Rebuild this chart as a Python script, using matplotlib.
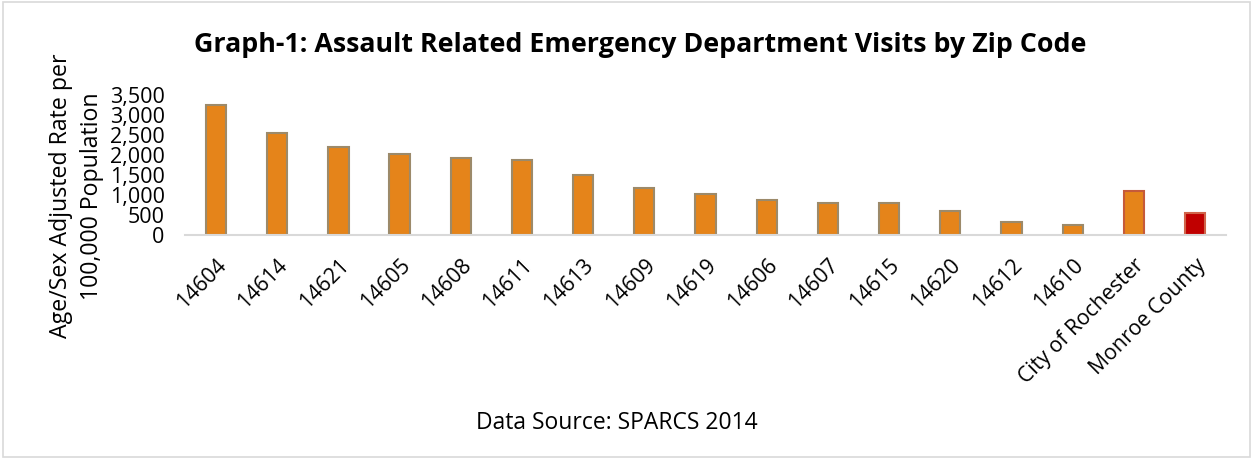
import matplotlib.pyplot as plt
from matplotlib.patches import Rectangle
import numpy as np

categories = ['14604', '14614', '14621', '14605', '14608', '14611', '14613', '14609',
              '14619', '14606', '14607', '14615', '14620', '14612', '14610',
              'City of Rochester', 'Monroe County']
rates = [3260, 2560, 2200, 2035, 1915, 1865, 1500, 1175,
         1030, 875, 808, 792, 608, 317, 242, 1092, 550]

face = ['#E5841A'] * 15 + ['#E5841A', '#C00000']
edge = ['#9C8A6A'] * 15 + ['#C55A3A', '#D0644A']

plt.rcParams['font.family'] = ['Open Sans', 'DejaVu Sans']

fig = plt.figure(figsize=(12.58, 4.59), dpi=100)
fig.patches.append(Rectangle((0.002, 0.004), 0.992, 0.992, transform=fig.transFigure,
                             fill=False, edgecolor='#D9D9D9', linewidth=1.2))

ax = fig.add_axes([0.1474, 0.488, 0.8269, 0.305])
x = np.arange(len(categories))
ax.bar(x, rates, width=0.33, color=face, edgecolor=edge, linewidth=1.5)

ax.set_xlim(-0.5, len(categories) - 0.5)
ax.set_ylim(0, 3500)
ax.set_yticks(np.arange(0, 3501, 500))
ax.set_yticklabels([f'{v:,}' for v in range(0, 3501, 500)], fontsize=15.5)
ax.set_xticks(x)
ax.set_xticklabels(categories, rotation=45, ha='right', rotation_mode='anchor', fontsize=15.3)
ax.tick_params(axis='both', length=0)
ax.tick_params(axis='y', pad=15)
ax.tick_params(axis='x', pad=14)

for s in ['top', 'right', 'left']:
    ax.spines[s].set_visible(False)
ax.spines['bottom'].set_color('#D9D9D9')
ax.spines['bottom'].set_linewidth(1.5)

fig.text(0.0608, 0.573, 'Age/Sex Adjusted Rate per\n100,000 Population', rotation=90,
         ha='center', va='center', fontsize=16.7, linespacing=1.34)
fig.text(0.509, 0.902, 'Graph-1: Assault Related Emergency Department Visits by Zip Code',
         ha='center', va='center', fontsize=19.3, fontweight='bold')
fig.text(0.49, 0.078, 'Data Source: SPARCS 2014', ha='center', va='center', fontsize=16.5)

fig.savefig('out.png', dpi=100)
